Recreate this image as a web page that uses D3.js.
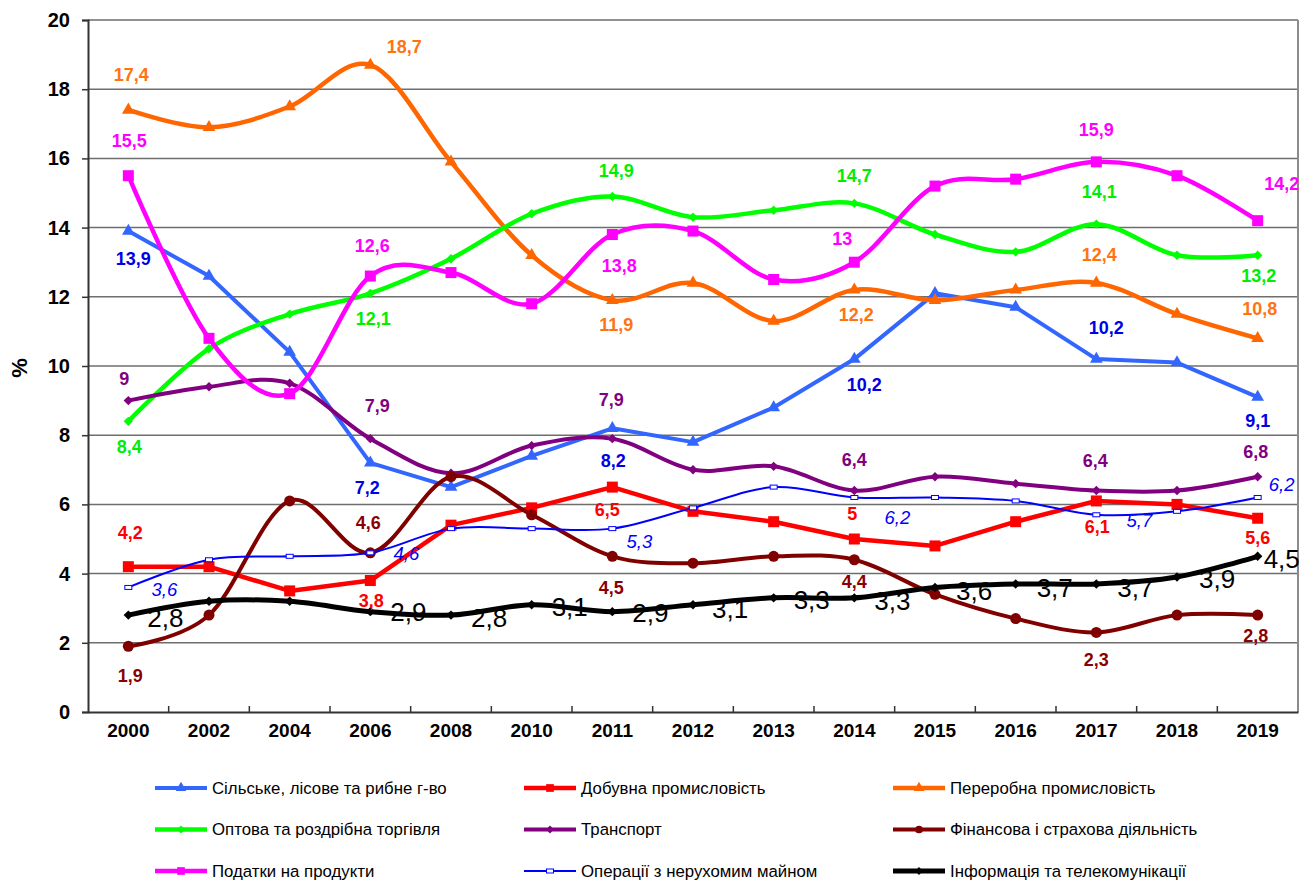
<!DOCTYPE html>
<html lang="uk">
<head>
<meta charset="UTF-8">
<title>Структура ВВП</title>
<script src="https://cdnjs.cloudflare.com/ajax/libs/d3/7.8.5/d3.min.js"></script>
<style>
	*{margin:0;padding:0;}
	body{background:#fff;}
	svg text{font-family:"Liberation Sans",Arial,sans-serif;}
	.tick text{font-weight:bold;fill:#000;}
</style>
</head>
<body>
<div id="chart"></div>
<script>
// categories
var years=['2000','2002','2004','2006','2008','2010','2011','2012','2013','2014','2015','2016','2017','2018','2019']
var yTicks=[0,2,4,6,8,10,12,14,16,18,20]

// series values, %
var agri     =[13.9,12.6,10.4,7.2,6.5,7.4,8.2,7.8,8.8,10.2,12.1,11.7,10.2,10.1,9.1]
var mining   =[4.2,4.2,3.5,3.8,5.4,5.9,6.5,5.8,5.5,5.0,4.8,5.5,6.1,6.0,5.6]
var manuf    =[17.4,16.9,17.5,18.7,15.9,13.2,11.9,12.4,11.3,12.2,11.9,12.2,12.4,11.5,10.8]
var trade    =[8.4,10.5,11.5,12.1,13.1,14.4,14.9,14.3,14.5,14.7,13.8,13.3,14.1,13.2,13.2]
var transport=[9.0,9.4,9.5,7.9,6.9,7.7,7.9,7.0,7.1,6.4,6.8,6.6,6.4,6.4,6.8]
var finance  =[1.9,2.8,6.1,4.6,6.8,5.7,4.5,4.3,4.5,4.4,3.4,2.7,2.3,2.8,2.8]
var taxes    =[15.5,10.8,9.2,12.6,12.7,11.8,13.8,13.9,12.5,13.0,15.2,15.4,15.9,15.5,14.2]
var realty   =[3.6,4.4,4.5,4.6,5.3,5.3,5.3,5.9,6.5,6.2,6.2,6.1,5.7,5.8,6.2]
var infocom  =[2.8,3.2,3.2,2.9,2.8,3.1,2.9,3.1,3.3,3.3,3.6,3.7,3.7,3.9,4.5]

var names=['Сільське, лісове та рибне г-во','Добувна промисловість','Переробна промисловість',
	'Оптова та роздрібна торгівля','Транспорт','Фінансова і страхова діяльність',
	'Податки на продукти','Операції з нерухомим майном','Інформація та телекомунікації']

// which points carry a value label: [index, dx, dy] from the point
var agriLab=[[0,5,28],[3,-3,25],[6,1,33],[9,10,26],[12,10,-31],[14,0,24]]
var miningLab=[[0,2,-34],[3,1,20],[6,-5,23],[9,-2,-25],[12,1,26],[14,0,20]]
var manufLab=[[0,3,-35],[3,34,-18],[6,4,25],[9,2,25],[12,3,-28],[14,2,-29]]
var tradeLab=[[0,1,26],[3,3,26],[6,4,-25],[9,0,-27],[12,3,-32],[14,1,21]]
var transLab=[[0,-4,-22],[3,7,-33],[6,-1,-39],[9,0,-31],[12,-1,-30],[14,-2,-25]]
var finLab=[[0,2,30],[3,-2,-30],[6,-1,32],[9,0,22],[12,0,28],[14,-2,21]]
var taxLab=[[0,1,-35],[3,2,-30],[6,7,31],[9,-12,-23],[12,0,-32],[14,24,-37]]
var realtyLab=[[0,36,2],[3,36,1],[6,27,13],[9,43,20],[12,43,6],[14,24,-13]]
var infoLab=[[0,19,3],[3,20,0],[4,20,3],[5,20,2],[6,20,1],[7,19,4],[8,20,2],[9,20,3],[10,21,4],[11,21,4],[12,21,4],[13,22,2],[14,6,3]]

var series=[
	{v:agri,c:'#3366FF',lc:'#0000E6',w:4,m:'tri',smooth:false,lab:agriLab},
	{v:mining,c:'#FF0000',lc:'#FF0000',w:4.5,m:'sq',smooth:false,lab:miningLab},
	{v:manuf,c:'#FF6600',lc:'#FF7410',w:4.5,m:'tri',smooth:true,lab:manufLab},
	{v:trade,c:'#00FF00',lc:'#00EE00',w:4.5,m:'dia',smooth:true,lab:tradeLab},
	{v:transport,c:'#800080',lc:'#800080',w:4,m:'dia',smooth:true,lab:transLab},
	{v:finance,c:'#800000',lc:'#8B0000',w:4,m:'circ',smooth:true,lab:finLab},
	{v:taxes,c:'#FF00FF',lc:'#FF00FF',w:4.5,m:'sq',smooth:true,lab:taxLab},
	{v:realty,c:'#0000FF',lc:'#0000FF',w:2,m:'dash',smooth:true,lab:realtyLab,font:'italic',fs:18.5},
	{v:infocom,c:'#000000',lc:'#000000',w:5,m:'dia',smooth:true,lab:infoLab,font:'plain',fs:26}
]

var width=1307,height=881
var plot={left:88,top:20,right:1298,bottom:712}

var svg=d3.select('#chart').append('svg')
	.attr('width',width)
	.attr('height',height)

var x=d3.scaleBand().domain(years).range([plot.left,plot.right])
var y=d3.scaleLinear().domain([0,20]).range([plot.bottom,plot.top])
var cx=function(i){return x(years[i])+x.bandwidth()/2}

// grid
svg.append('g').selectAll('line').data(yTicks.slice(1)).enter().append('line')
	.attr('x1',plot.left).attr('x2',plot.right)
	.attr('y1',function(d){return y(d)}).attr('y2',function(d){return y(d)})
	.attr('stroke','#6e6e6e').attr('stroke-width',1.5)

// right border
svg.append('line')
	.attr('x1',plot.right).attr('x2',plot.right)
	.attr('y1',plot.top).attr('y2',plot.bottom)
	.attr('stroke','#8c8c8c').attr('stroke-width',2)

// axes
var yAxis=svg.append('g')
	.attr('transform','translate('+plot.left+',0)')
	.call(d3.axisLeft(y).tickValues(yTicks).tickSize(6).tickPadding(12).tickFormat(d3.format('d')))
yAxis.selectAll('text').style('font-size','20px')
yAxis.select('.domain').attr('stroke','#333').attr('stroke-width',2)
yAxis.selectAll('.tick line').attr('stroke','#333').attr('stroke-width',1.5)

var xAxis=svg.append('g')
	.attr('transform','translate(0,'+plot.bottom+')')
	.call(d3.axisBottom(x).tickSize(0).tickPadding(12))
xAxis.selectAll('text').style('font-size','19px')
xAxis.select('.domain').attr('stroke','#333').attr('stroke-width',2)

// tick marks between categories
svg.append('g').selectAll('line').data(years.slice(1)).enter().append('line')
	.attr('x1',function(d){return x(d)}).attr('x2',function(d){return x(d)})
	.attr('y1',plot.bottom).attr('y2',plot.bottom-6)
	.attr('stroke','#333').attr('stroke-width',1.5)

svg.append('text')
	.attr('transform','translate(27,368) rotate(-90)')
	.attr('text-anchor','middle')
	.style('font-size','22px').style('font-weight','bold')
	.text('%')

function marker(sel,m,color,scale){
	scale=scale||1
	if(m=='tri'){
		sel.append('path').attr('d',d3.symbol(d3.symbolTriangle,70*scale)())
			.attr('fill',color)
	}else if(m=='sq'){
		sel.append('rect').attr('x',-5.5*scale).attr('y',-5.5*scale)
			.attr('width',11*scale).attr('height',11*scale).attr('fill',color)
	}else if(m=='dia'){
		sel.append('path').attr('d',d3.symbol(d3.symbolSquare,44*scale)())
			.attr('transform','rotate(45)').attr('fill',color)
	}else if(m=='circ'){
		sel.append('circle').attr('r',5.5*scale).attr('fill',color)
	}else{
		sel.append('rect').attr('x',-3.5).attr('y',-2)
			.attr('width',7).attr('height',4)
			.attr('fill','#fff').attr('stroke',color).attr('stroke-width',1)
	}
}

var lineStraight=d3.line().x(function(d,i){return cx(i)}).y(function(d){return y(d)})
var lineSmooth=d3.line().x(function(d,i){return cx(i)}).y(function(d){return y(d)}).curve(d3.curveCardinal.tension(0))

series.forEach(function(s){
	var g=svg.append('g')
	g.append('path')
		.attr('d',(s.smooth?lineSmooth:lineStraight)(s.v))
		.attr('fill','none')
		.attr('stroke',s.c)
		.attr('stroke-width',s.w)
		.attr('stroke-linejoin','round')
	g.selectAll('g.pt').data(s.v).enter().append('g')
		.attr('class','pt')
		.attr('transform',function(d,i){return 'translate('+cx(i)+','+y(d)+')'})
		.each(function(){marker(d3.select(this),s.m,s.c)})
})

// value labels on top
series.forEach(function(s){
	svg.append('g').selectAll('text').data(s.lab).enter().append('text')
		.attr('x',function(d){return cx(d[0])+d[1]})
		.attr('y',function(d){return y(s.v[d[0]])+d[2]})
		.attr('text-anchor',s.font=='plain'?'start':'middle')
		.attr('dominant-baseline','central')
		.attr('fill',s.lc)
		.style('font-size',(s.fs||18)+'px')
		.style('font-weight',s.font?'normal':'bold')
		.style('font-style',s.font=='italic'?'italic':'normal')
		.text(function(d){return String(s.v[d[0]]).replace('.',',')})
})

// legend
var legend=svg.append('g')
series.forEach(function(s,i){
	var col=i%3,row=Math.floor(i/3)
	var lx=155+col*369,ly=788+row*41.5
	var g=legend.append('g').attr('transform','translate('+lx+','+ly+')')
	g.append('line').attr('x1',0).attr('x2',52).attr('y1',0).attr('y2',0)
		.attr('stroke',s.c).attr('stroke-width',s.w)
	var mg=g.append('g').attr('transform','translate(26,0)')
	marker(mg,s.m,s.c,0.7)
	g.append('text').attr('x',57).attr('y',0)
		.attr('dominant-baseline','central')
		.style('font-size','16.8px')
		.text(names[i])
})
</script>
</body>
</html>
